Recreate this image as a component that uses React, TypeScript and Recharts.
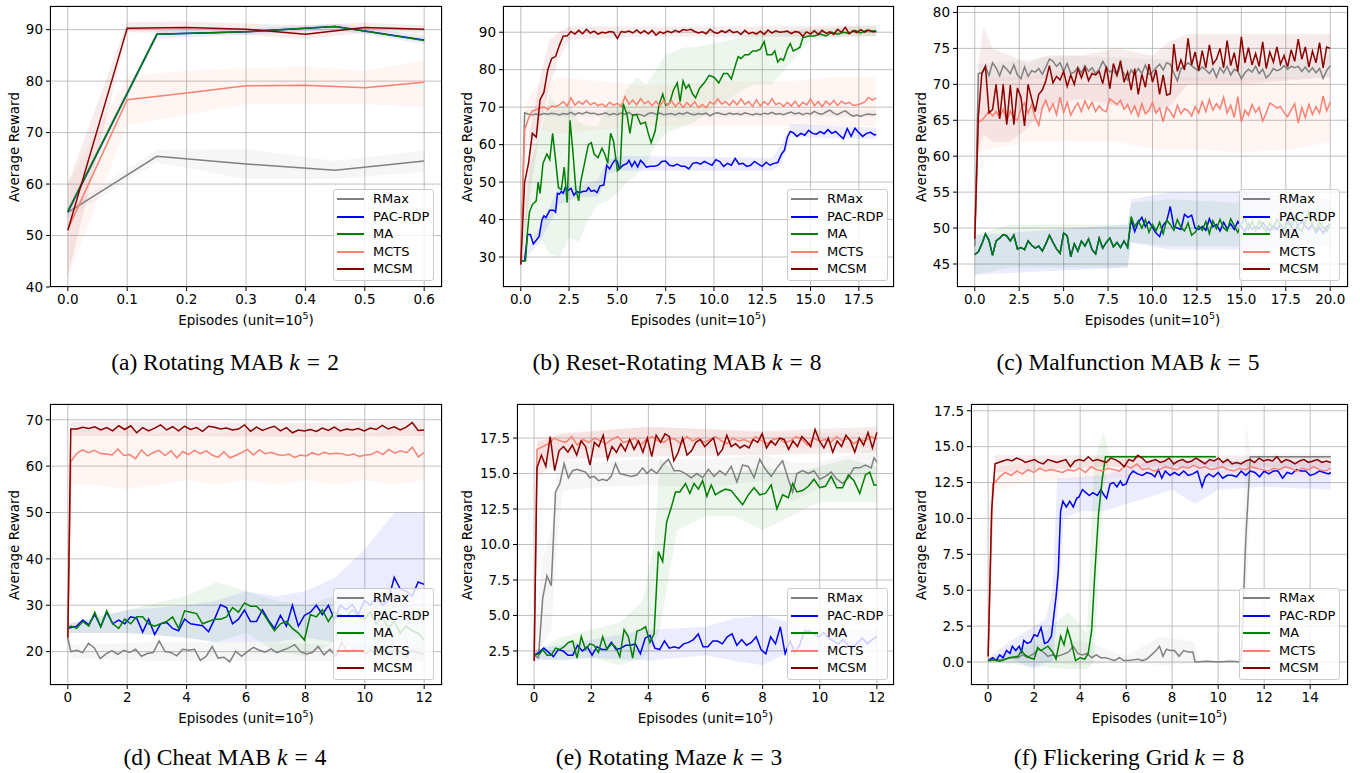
import React from "react";
import { ComposedChart, Line, Area, XAxis, YAxis, CartesianGrid } from "recharts";

// ---- helpers: turn read-off values into chart rows ----
const pairs = (a: number[][]) => a.map(([x, y]) => ({ x, y }));
const spread = (x0: number, x1: number, ys: number[]) =>
  ys.map((y, i) => ({ x: x0 + ((x1 - x0) * i) / (ys.length - 1), y }));
const band = (a: number[][]) => a.map(([x, lo, hi]) => ({ x, r: [lo, hi] }));

const NAMES = ["RMax", "PAC-RDP", "MA", "MCTS", "MCSM"];
const COLORS: Record<string, string> = {
  RMax: "#808080",
  "PAC-RDP": "#0000ff",
  MA: "#008000",
  MCTS: "#fa8072",
  MCSM: "#8b0000",
};

// ---- (a) Rotating MAB ----
const aRMax = [[0, 54.5], [0.15, 65.4], [0.3, 63.9], [0.45, 62.7], [0.6, 64.5]];
const aPAC = [[0, 54.6], [0.15, 89.1], [0.3, 89.6], [0.45, 90.6], [0.6, 88.0]];
const aMA = [[0, 54.7], [0.15, 89.1], [0.3, 89.6], [0.45, 90.6], [0.6, 87.9]];
const aMCTS = [[0, 51.2], [0.1, 76.4], [0.2, 77.7], [0.3, 79.1], [0.4, 79.2], [0.5, 78.7], [0.6, 79.8]];
const aMCSM = [[0, 51.0], [0.1, 90.3], [0.2, 90.4], [0.3, 90.1], [0.4, 89.1], [0.5, 90.4], [0.6, 90.1]];
const aRMaxBand = [[0, 53.5, 55.5], [0.15, 64.2, 66.6], [0.3, 61.0, 66.8], [0.45, 61.0, 64.5], [0.6, 62.4, 66.5]];
const aPACBand = [[0, 54, 55.5], [0.15, 88.3, 89.9], [0.3, 89.0, 90.2], [0.45, 90.0, 91.2], [0.6, 87.2, 88.8]];
const aMCTSBand = [[0, 42, 60], [0.1, 71.5, 81], [0.2, 73.5, 82], [0.3, 75.5, 82.5], [0.4, 75.5, 82.8], [0.5, 75.5, 82], [0.6, 75, 84]];
const aMCSMBand = [[0, 42, 60], [0.1, 89.5, 91.5], [0.2, 89.3, 91.6], [0.3, 89.0, 91.2], [0.4, 88.2, 90.8], [0.5, 89.4, 91.4], [0.6, 89.4, 90.8]];

// ---- (b) Reset-Rotating MAB ----
const bRMax = [28, 68.5, 68.1, 68.0, 68.2, 68.0, 68.3, 68.1, 68.4, 68.2,
  67.9, 68.3, 68.1, 68.6, 68.0, 68.5, 68.2, 68.7, 68.3, 68.4,
  68.0, 68.2, 68.5, 67.9, 68.3, 68.0, 68.4, 68.1, 68.6, 67.8,
  68.2, 68.0, 67.6, 68.3, 68.5, 68.1, 68.4, 68.0, 68.2, 68.3,
  67.9, 68.4, 68.1, 68.6, 68.2, 68.0, 68.3, 68.1, 68.4, 67.7,
  68.3, 68.5, 68.2, 68.0, 68.4, 68.1, 68.3, 68.0, 68.5, 68.2,
  67.9, 68.3, 68.0, 68.4, 68.2, 68.6, 68.1, 68.3, 68.0, 68.4,
  68.7, 68.2, 68.5, 68.0, 68.4, 68.2, 68.9, 68.3, 68.1, 68.7,
  69.2, 68.4, 68.0, 68.6, 69.0, 68.2, 67.6, 67.9, 67.5, 68.0,
  68.2, 68.0, 68.1];
const bPAC = [[0, 29], [0.2, 29], [0.35, 36], [0.5, 36], [0.65, 33.5], [0.8, 34.5], [0.95, 35.5], [1.1, 40], [1.2, 41], [1.3, 40.5],
  [1.5, 42.5], [1.7, 42.5], [1.8, 42], [1.9, 47], [2.0, 46.8], [2.1, 47.5], [2.2, 47], [2.3, 48.5], [2.45, 47.8], [2.6, 48.3],
  [2.75, 46.5], [2.9, 47.5], [3.05, 47.2], [3.2, 47.5], [3.4, 47.6], [3.5, 48.5], [3.65, 47.5], [3.8, 47.8], [3.95, 47.2], [4.1, 49],
  [4.3, 49.2], [4.45, 54.5], [4.6, 53.5], [4.75, 55], [4.9, 56], [5.0, 55.5], [5.1, 53.5], [5.3, 54.5], [5.5, 55], [5.6, 55.8],
  [5.75, 54.2], [5.9, 55.5], [6.05, 54], [6.2, 55.8], [6.35, 55], [6.5, 54], [6.7, 54.2], [6.9, 54.2], [7.1, 54.5], [7.3, 55.5],
  [7.5, 55.6], [7.7, 54.5], [7.9, 54.3], [8.1, 54.8], [8.3, 54.2], [8.5, 54.2], [8.7, 53.5], [8.9, 55], [9.1, 55.2], [9.3, 54.8],
  [9.5, 55.5], [9.7, 55], [9.9, 54.5], [10.1, 56], [10.3, 55.5], [10.5, 54.2], [10.7, 55], [10.9, 54.5], [11.1, 56.3], [11.3, 54.8],
  [11.5, 55], [11.7, 54.2], [11.9, 54.5], [12.1, 55.5], [12.3, 54.8], [12.5, 54.2], [12.7, 55.3], [12.9, 54.5], [13.1, 55], [13.3, 55.2],
  [13.5, 57.5], [13.65, 58.5], [13.8, 62], [13.95, 63.5], [14.1, 63.2], [14.3, 62.2], [14.5, 63], [14.7, 62.5], [14.9, 63.8], [15.1, 63],
  [15.3, 62.8], [15.5, 63.5], [15.7, 62.9], [15.9, 64], [16.1, 63], [16.3, 63.5], [16.5, 62.5], [16.7, 61.6], [16.9, 64.3], [17.1, 62.2],
  [17.3, 64.4], [17.5, 63.2], [17.7, 62.2], [17.9, 63], [18.1, 63.3], [18.3, 62.6], [18.4, 62.7]];
const bMA = [[0, 29], [0.25, 29], [0.35, 37], [0.45, 42], [0.6, 44], [0.8, 45], [0.9, 50], [1.0, 47], [1.15, 55], [1.35, 57.5],
  [1.5, 56], [1.65, 63], [1.8, 56], [1.95, 48.5], [2.1, 48], [2.25, 54], [2.4, 44.5], [2.55, 66.5], [2.7, 58], [2.85, 48],
  [3.0, 45], [3.1, 50], [3.3, 55], [3.5, 60], [3.65, 60.5], [3.8, 57.5], [4.0, 56.5], [4.2, 59], [4.35, 57.5], [4.5, 55],
  [4.65, 63], [4.8, 61], [5.0, 53], [5.15, 54], [5.3, 71], [5.5, 68], [5.65, 63], [5.8, 68], [6.0, 68], [6.2, 65.5],
  [6.45, 66], [6.6, 63], [6.75, 60.5], [6.95, 63.5], [7.15, 70.5], [7.35, 73.5], [7.5, 70.5], [7.7, 71], [7.9, 74.5], [8.1, 76.5],
  [8.25, 71.5], [8.4, 77], [8.55, 75], [8.7, 76], [8.9, 73.5], [9.05, 72.5], [9.25, 75], [9.5, 76.5], [9.75, 78.5], [10.0, 78],
  [10.25, 76.5], [10.5, 79], [10.7, 79], [10.9, 77.5], [11.1, 81], [11.25, 83.5], [11.4, 83], [11.6, 84], [11.8, 84], [12.0, 85],
  [12.2, 85], [12.4, 85.5], [12.6, 87.5], [12.75, 84], [13.0, 84], [13.15, 85], [13.3, 82], [13.45, 83], [13.6, 82.5], [13.8, 85.5],
  [13.95, 87], [14.1, 85], [14.3, 85.5], [14.45, 86], [14.6, 88.5], [14.9, 89], [15.2, 89], [15.5, 89.5], [15.8, 89], [16.1, 90],
  [16.4, 89.5], [16.7, 90], [17.0, 89.7], [17.3, 90.5], [17.6, 89.8], [17.9, 90.5], [18.1, 90.4], [18.4, 90.3]];
const bMCTS = [28, 64, 67, 69, 69.3, 69.8, 70, 69.4, 70.3, 70.1,
  70.6, 71.5, 70.3, 72.5, 70.5, 71.5, 70.8, 71.8, 70.6, 71.2,
  70.4, 70.9, 70.1, 71.3, 70.5, 71.0, 70.2, 72.8, 70.8, 71.9,
  70.6, 72.3, 70.9, 71.6, 70.4, 71.6, 70.3, 71.8, 70.5, 71.7,
  70.2, 71.3, 69.9, 71.2, 70.2, 71.5, 69.9, 70.7, 69.8, 71.4,
  70.7, 72.2, 70.8, 71.5, 70.5, 71.8, 70.6, 72.2, 70.7, 71.5,
  70.2, 72.0, 70.3, 71.5, 70.6, 72.3, 70.7, 71.1, 70.2, 71.3,
  70.3, 71.6, 70.1, 71.3, 70.6, 72.2, 70.4, 71.5, 70.1, 71.6,
  70.6, 71.8, 70.4, 71.6, 70.9, 71.3, 70.5, 70.6, 70.9, 71.4,
  72.6, 71.9, 72.5];
const bMCSM = [28, 50, 55, 63, 62, 72, 74, 80, 83, 83.5,
  86.5, 89, 89, 90.2, 89.5, 90.5, 89.6, 90.8, 89.8, 90.3,
  89.5, 90.0, 89.8, 90.2, 90.0, 88.3, 90.2, 90.0, 90.3, 89.8,
  90.6, 89.7, 90.4, 89.6, 90.5, 89.2, 90.1, 89.7, 90.3, 89.9,
  90.5, 90.0, 90.7, 90.5, 90.8, 90.2, 89.8, 90.1, 89.6, 90.8,
  90.0, 89.7, 90.4, 89.9, 90.6, 89.9, 90.2, 89.4, 90.5, 89.6,
  90.0, 89.5, 90.3, 89.4, 90.6, 89.8, 90.4, 90.0, 90.1, 90.3,
  89.6, 90.2, 90.0, 88.9, 90.1, 89.5, 90.4, 89.4, 90.5, 89.7,
  90.1, 89.4, 90.8, 90.0, 91.3, 89.6, 90.4, 89.9, 90.7, 90.0,
  90.6, 90.1, 90.2];
const bRMaxBand = [[0, 26, 30], [0.2, 67.5, 69.3], [5, 67.4, 69.3], [10, 67.4, 69.4], [15, 67.5, 69.5], [18.4, 67.3, 69.2]];
const bPACBand = [[0, 28, 30], [1, 34, 38], [2, 44, 49], [3, 46, 49], [4, 46, 50.5], [4.5, 52, 56], [5, 53, 57], [13, 53, 56.5], [13.5, 55, 60], [14, 62, 65.5], [18.4, 61.5, 64.5]];
const bMABand = [[0, 28, 30], [0.5, 35, 55], [1.0, 35, 63], [1.5, 31, 73], [2.0, 30, 70], [2.5, 35, 72], [3.0, 34, 66], [3.5, 40, 65], [4.0, 44, 65],
  [4.5, 45, 70], [5.0, 47, 70], [5.5, 50, 75], [6.0, 52, 78], [6.5, 55, 76], [7.0, 60, 80], [7.5, 63, 84], [8.0, 64, 85], [8.5, 65, 86], [9.0, 66, 86],
  [10.0, 70, 87], [11.0, 73, 88], [12.0, 76, 90], [13.0, 76, 90], [14.0, 82, 90.5], [15.0, 88, 91], [16.0, 88.5, 91], [17.0, 89, 91.5], [18.4, 89, 91.5]];
const bMCTSBand = [[0, 26, 30], [0.2, 57, 70], [0.5, 62, 74], [1, 64, 76], [2, 63, 78], [4, 64, 77], [6, 65, 76], [8, 65, 76], [10, 65, 77], [12, 65, 77], [14, 65, 77], [16, 65, 78], [18.4, 65, 78]];
const bMCSMBand = [[0, 26, 30], [0.5, 48, 64], [1.0, 64, 78], [1.5, 76, 88], [2.0, 83, 90], [2.5, 88, 91.5], [6, 88.8, 91.5], [12, 88.8, 91.5], [18.4, 88.8, 91.8]];

// ---- (c) Malfunction MAB ----
const cRMax = [47.5, 71.5, 71.6, 72.5, 71.2, 73.0, 72.3, 71.2, 72.6, 72.1,
  71.5, 72.7, 71.3, 70.8, 72.4, 71.1, 71.9, 71.7, 72.2, 71.4,
  72.4, 73.5, 73.2, 72.5, 73.0, 71.8, 72.9, 71.5, 71.7, 72.4,
  71.6, 72.6, 71.8, 72.3, 71.5, 72.1, 73.2, 72.4, 71.7, 72.0,
  71.2, 72.6, 71.4, 70.6, 72.0, 71.3, 72.2, 71.5, 72.7, 71.4,
  71.7, 72.3, 72.8, 72.0, 73.0, 72.8, 71.6, 70.5, 72.2, 72.5,
  73.0, 72.6, 72.2, 71.9, 72.4, 72.0, 71.5, 72.2, 71.0, 72.3,
  71.6, 72.5, 71.3, 72.1, 71.8, 70.8, 71.6, 72.1, 71.7, 72.5,
  71.5, 72.1, 70.9, 71.4, 72.2, 71.9, 72.1, 72.6, 72.1, 72.5,
  72.3, 72.5, 71.8, 72.4, 71.7, 72.3, 71.6, 72.2, 70.8, 71.9,
  72.6];
const cMA = [46.3, 46.7, 47.8, 49.2, 48.3, 46.2, 48.2, 48.6, 49.1, 48.9,
  48.2, 49.0, 47.1, 47.3, 47.0, 48.2, 47.6, 47.2, 47.5, 46.8,
  47.8, 49.0, 48.0, 47.1, 46.5, 49.3, 48.9, 46.0, 47.8, 46.8,
  48.2, 47.5, 48.5, 47.0, 46.4, 48.6, 47.2, 48.0, 48.6, 47.4,
  48.0, 47.3, 48.2, 47.3, 51.6, 50.2, 51.0, 50.0, 51.2, 49.4,
  50.5, 49.6, 50.8, 49.2, 51.1, 50.5, 49.7, 51.2, 50.1, 49.6,
  50.7, 49.0, 49.4, 50.3, 49.7, 50.9, 49.2, 51.0, 49.9, 51.2,
  50.0, 49.6, 51.3, 50.3, 49.4, 50.5, 51.4, 49.8, 50.9, 49.6,
  51.0, 50.2, 49.5, 50.7, 49.9, 51.2, 50.4, 49.7, 50.8, 50.1,
  51.5, 50.0, 49.6, 50.9, 52.2, 50.3, 49.7, 50.8, 50.1, 49.5,
  50.6];
// PAC-RDP coincides with MA until ~8.7, then diverges
const cPACLate = [51.2, 49.5, 50.8, 51.5, 50.2, 50.9, 50.1, 49.3, 48.8, 50.4,
  51.0, 53.0, 50.2, 50.0, 49.8, 51.9, 51.5, 51.8, 50.0, 49.8,
  50.2, 49.7, 51.3, 50.2, 50.5, 49.6, 50.8, 49.9, 50.6, 49.8,
  50.9, 50.2, 49.5, 50.6, 49.8, 50.2, 49.9, 50.8, 50.1, 49.6,
  50.3, 49.8, 50.5, 49.7, 51.3, 50.2, 49.6, 50.4, 51.0, 50.3,
  49.8, 50.5, 49.4, 50.1, 49.3, 50.2, 50.5];
const cMCTS = [48.5, 64.8, 65.0, 65.6, 66.3, 65.6, 66.2, 65.4, 66.5, 64.9,
  66.3, 65.2, 65.0, 66.6, 67.4, 66.0, 67.2, 65.4, 64.3, 66.8,
  67.8, 66.3, 67.3, 65.8, 68.2, 66.1, 67.5, 65.7, 66.7, 67.4,
  66.2, 67.7, 66.6, 67.5, 66.2, 67.0, 66.4, 66.2, 68.0, 67.6,
  67.2, 67.8, 66.5, 67.2, 66.0, 67.0, 65.6, 67.3, 65.9, 66.4,
  67.5, 66.0, 66.7, 64.8, 66.8, 66.2, 65.4, 67.1, 65.9, 66.6,
  66.3, 65.6, 66.9, 66.0, 67.6, 66.2, 67.9, 66.4, 67.3, 66.6,
  68.2, 66.0, 67.1, 65.4, 68.3, 64.8, 66.4, 65.7, 67.2, 66.1,
  66.8, 64.9, 66.0, 67.4, 67.1, 66.7, 66.9, 66.1, 65.5, 66.4,
  67.3, 64.6, 66.8, 65.4, 67.2, 65.8, 66.9, 66.0, 68.4, 66.3,
  67.5];
const cMCSM = [48.5, 65.5, 71.5, 72.5, 66.0, 66.5, 70.0, 65.2, 70.0, 64.4,
  69.9, 64.4, 69.5, 68.2, 64.2, 70.0, 68.0, 66.2, 68.6, 69.2,
  70.5, 72.6, 70.2, 71.1, 70.6, 71.8, 69.7, 71.3, 70.0, 72.2,
  70.9, 72.3, 70.5, 71.5, 71.3, 71.8, 70.1, 72.5, 69.4, 72.9,
  71.3, 73.3, 70.3, 71.7, 69.2, 72.2, 68.6, 71.4, 69.6, 72.8,
  70.3, 72.0, 68.6, 71.3, 68.5, 68.7, 75.6, 71.8, 73.4, 72.0,
  76.4, 72.7, 74.5, 71.9, 74.7, 72.3, 75.5, 72.8, 73.5, 75.0,
  72.3, 76.1, 72.6, 74.4, 71.8, 76.6, 73.0, 75.1, 72.7, 74.3,
  72.5, 75.9, 72.2, 74.5, 73.1, 75.2, 72.8, 74.0, 72.4, 74.8,
  73.2, 76.3, 73.5, 75.2, 72.4, 74.6, 73.0, 75.8, 72.3, 75.2,
  75.0];
const cRMaxBand = [[0, 45, 50], [0.2, 70.2, 72.8], [5, 71, 74], [10, 70.5, 73.5], [15, 70.5, 73], [20, 71, 74]];
const cPACBand = [[0, 43.5, 49], [8.6, 44.5, 50.5], [8.8, 48, 54], [11, 47, 55], [15, 47, 55], [20, 47.5, 54]];
const cMABand = [[0, 43.5, 49], [2, 44.5, 50.5], [4, 44.5, 50.5], [6, 44.5, 50.5], [8.6, 44.5, 50.5], [8.8, 48, 53.5], [11, 47.5, 54], [15, 47.5, 53.5], [20, 47.5, 53.5]];
const cMCTSBand = [[0, 44, 52], [0.2, 60.5, 70], [1, 61, 71], [3, 62, 71], [5, 62, 72], [8, 62, 72], [10, 61, 71], [12, 61, 71], [15, 60.5, 71], [18, 61, 71], [20, 62, 71]];
const cMCSMBand = [[0, 44, 52], [0.2, 61, 73], [0.5, 63, 78], [1, 62, 75], [2, 62, 74], [3, 64, 73], [4, 67, 74], [6, 68, 74], [8, 67, 75], [10, 66, 74], [11, 67, 76], [12, 70, 77], [15, 70, 77], [20, 71, 77]];

// ---- (d) Cheat MAB ----
const dRMax = [20.0, 20.3, 19.8, 21.8, 20.8, 18.5, 19.5, 20.2, 19.4, 20.3,
  19.8, 20.5, 19.0, 19.6, 19.8, 22.3, 20.0, 19.8, 19.1, 20.5,
  20.3, 20.5, 18.1, 19.0, 21.1, 18.6, 18.8, 17.8, 20.1, 19.0,
  20.0, 20.9, 20.3, 19.9, 20.6, 19.8, 20.3, 20.8, 21.5, 20.0,
  19.5, 19.8, 21.1, 19.3, 20.5, 19.0, 22.0, 19.8, 20.5, 20.1,
  19.5, 20.3, 19.2, 20.4, 19.6, 20.6, 19.9, 18.9, 20.3, 19.7,
  19.5];
const dPAC = [25.2, 25.5, 26.8, 25.8, 28.0, 25.4, 28.5, 26.0, 26.8, 26.0,
  27.5, 27.2, 24.2, 27.0, 23.7, 26.0, 26.3, 25.0, 24.5, 27.0,
  26.0, 25.8, 25.6, 24.3, 27.0, 30.1, 29.5, 26.0, 27.0, 29.0,
  26.5, 26.5, 29.0, 26.8, 25.0, 27.8, 25.5, 30.0, 25.5, 27.8,
  28.5, 30.0, 28.0, 30.0, 27.0, 30.0, 29.0, 30.2, 28.0, 31.0,
  30.0, 31.5, 30.0, 31.0, 36.0, 33.5, 33.0, 32.0, 35.0, 34.5];
const dMA = [25.5, 25.0, 26.5, 25.5, 28.5, 25.3, 28.8, 26.0, 25.0, 27.0,
  26.0, 27.5, 27.5, 26.0, 25.5, 26.0, 26.5, 27.5, 25.0, 28.8,
  28.5, 28.2, 26.0, 26.5, 27.0, 27.0, 27.5, 29.5, 28.5, 30.5,
  29.8, 29.8, 28.5, 26.5, 24.5, 26.0, 26.5, 25.0, 24.0, 22.5,
  28.0, 27.5, 29.0, 26.5, 28.5, 28.0, 27.5, 29.0, 27.5, 27.0,
  28.5, 26.0, 27.5, 25.0, 26.5, 24.0, 25.5, 24.5, 24.0, 22.5];
const dMCTS = [61.0, 62.7, 63.5, 62.9, 63.4, 62.7, 62.6, 62.4, 63.7, 62.3,
  62.5, 61.6, 63.5, 62.2, 62.9, 63.4, 62.3, 63.3, 61.8, 63.1,
  62.5, 63.4, 62.7, 63.3, 62.4, 61.9, 63.1, 61.8, 62.3, 62.9,
  63.6, 62.4, 63.5, 62.7, 63.0, 62.5, 62.3, 62.6, 61.9, 62.4,
  62.2, 62.9, 62.4, 63.0, 62.6, 62.8, 62.7, 62.3, 62.6, 62.1,
  62.4, 62.5, 63.2, 62.5, 63.6, 62.8, 63.3, 62.9, 64.1, 62.0,
  62.9];
const dMCSM = [68.0, 68.0, 68.4, 68.1, 68.5, 67.8, 68.3, 67.6, 68.7, 67.9,
  68.7, 67.2, 68.3, 67.6, 68.2, 68.9, 67.8, 68.5, 67.6, 68.6,
  67.9, 68.3, 67.5, 68.6, 68.4, 68.0, 68.2, 67.8, 68.0, 68.9,
  67.5, 68.4, 67.7, 68.2, 68.6, 67.6, 68.3, 67.2, 67.8, 67.6,
  67.9, 67.5, 68.2, 67.7, 68.4, 67.6, 68.0, 67.8, 68.1, 67.6,
  68.2, 67.9, 68.8, 68.0, 68.5, 67.8, 68.4, 69.4, 67.7, 67.8];
const dRMaxBand = [[0, 22, 24], [0.1, 18.5, 21.5], [3, 18, 22], [6, 18, 22], [9, 18, 21.5], [12, 18, 21.5]];
const dPACBand = [[0, 24, 26], [2, 24, 29], [4, 23, 30], [5, 22, 31], [6, 22, 33], [7, 22, 32], [8, 23, 33], [9, 22, 36], [10, 20, 42], [11, 18, 50], [12, 18, 50]];
const dMABand = [[0, 24, 26], [2, 24, 29], [4, 23, 32], [5, 22, 35], [6, 24, 33], [7, 20, 31], [8, 19, 30], [9, 22, 32], [10, 20, 33], [11, 19, 32], [12, 18, 28]];
const dMCTSBand = [[0, 22, 24], [0.1, 56, 68], [1, 56, 68], [2, 55, 68], [3, 56, 67], [4, 57, 68], [5, 56, 67], [6, 57, 68], [7, 56, 68], [8, 57, 67], [9, 56, 68], [10, 57, 67], [11, 56, 68], [12, 57, 68]];
const dMCSMBand = [[0, 22, 24], [0.1, 66.5, 69.5], [4, 66.5, 69.5], [8, 66.3, 69.3], [12, 66.5, 69.8]];

// ---- (e) Rotating Maze ----
const eRMax = [[0, 2.2], [0.15, 2.0], [0.3, 6.2], [0.45, 7.8], [0.6, 7.1], [0.75, 13.7], [0.9, 14.3], [1.05, 15.7], [1.2, 14.7], [1.35, 15.2],
  [1.5, 15.3], [1.65, 15.2], [1.8, 15.1], [1.95, 14.7], [2.1, 14.8], [2.25, 14.5], [2.4, 14.6], [2.55, 14.5], [2.7, 14.8], [2.85, 15.7],
  [3.0, 15.0], [3.2, 14.9], [3.4, 14.8], [3.6, 14.9], [3.8, 15.4], [3.95, 15.0], [4.1, 15.3], [4.3, 15.0], [4.5, 15.6], [4.7, 16.0],
  [4.9, 15.2], [5.1, 15.2], [5.3, 15.0], [5.5, 14.7], [5.7, 15.0], [5.9, 14.7], [6.1, 15.3], [6.3, 14.8], [6.5, 15.2], [6.7, 14.9],
  [6.9, 15.5], [7.1, 14.4], [7.3, 15.6], [7.5, 15.5], [7.7, 14.7], [7.9, 16.0], [8.1, 15.3], [8.3, 14.8], [8.5, 15.4], [8.7, 15.9],
  [8.9, 14.6], [9.05, 13.7], [9.2, 15.0], [9.4, 15.2], [9.6, 15.0], [9.8, 15.2], [10.0, 14.6], [10.2, 14.8], [10.4, 15.1], [10.6, 14.6],
  [10.8, 14.3], [11.0, 14.7], [11.2, 15.4], [11.4, 15.4], [11.6, 15.6], [11.8, 15.4], [11.9, 16.1], [12.0, 15.8]];
const ePAC = [2.2, 2.4, 2.7, 2.4, 2.1, 2.6, 2.5, 2.2, 2.2, 2.9,
  2.5, 2.8, 2.2, 2.8, 2.6, 2.6, 3.1, 2.6, 2.7, 2.9,
  2.9, 3.0, 2.3, 3.4, 3.6, 2.7, 2.6, 3.2, 2.7, 2.8,
  2.7, 3.0, 3.1, 3.3, 3.7, 2.8, 2.8, 3.2, 3.2, 3.0,
  3.5, 3.7, 2.9, 3.3, 2.9, 3.1, 3.5, 2.6, 2.3, 3.5,
  3.0, 4.2, 2.3, 3.2, 2.4, 2.9, 3.9, 3.9, 3.7, 3.5,
  3.8, 3.4, 3.2, 3.0, 3.3, 2.9, 2.7, 3.1, 3.4, 3.0,
  3.3, 3.5];
const eMA = [[0, 2.2], [0.2, 2.3], [0.3, 2.6], [0.45, 2.2], [0.6, 2.2], [0.75, 2.7], [0.9, 2.6], [1.05, 2.8], [1.2, 3.1], [1.35, 3.2],
  [1.5, 2.0], [1.65, 3.5], [1.8, 2.6], [1.95, 3.0], [2.1, 2.9], [2.25, 2.4], [2.4, 3.5], [2.55, 2.6], [2.7, 3.0], [2.85, 2.8],
  [3.0, 2.1], [3.15, 4.0], [3.3, 3.5], [3.45, 2.0], [3.6, 3.9], [3.75, 4.0], [3.9, 4.2], [4.05, 3.1], [4.2, 3.7], [4.35, 9.5],
  [4.5, 8.8], [4.64, 11.6], [4.8, 12.6], [4.95, 13.7], [5.1, 13.7], [5.3, 14.3], [5.45, 13.6], [5.6, 14.3], [5.75, 13.9], [5.9, 14.5],
  [6.05, 13.4], [6.2, 14.2], [6.35, 13.5], [6.5, 13.7], [6.7, 13.9], [6.9, 13.8], [7.1, 13.3], [7.3, 12.8], [7.5, 13.5], [7.7, 14.0],
  [7.9, 13.5], [8.1, 13.6], [8.3, 14.2], [8.5, 12.5], [8.7, 13.5], [8.9, 13.3], [9.05, 14.3], [9.2, 13.7], [9.4, 13.8], [9.6, 14.1],
  [9.8, 14.6], [10.0, 14.0], [10.2, 14.1], [10.4, 14.8], [10.6, 14.0], [10.8, 14.0], [11.0, 14.9], [11.2, 14.5], [11.4, 13.6], [11.6, 14.9],
  [11.75, 15.1], [11.9, 14.2], [12.0, 14.2]];
const eMCTS = [16.7, 16.9, 17.1, 17.5, 17.3, 17.2, 17.6, 17.0, 17.4, 17.2,
  17.5, 17.3, 17.1, 17.4, 17.6, 17.2, 17.3, 17.5, 17.0, 17.4,
  17.6, 17.3, 17.2, 17.5, 17.4, 17.1, 17.6, 17.3, 17.5, 17.2,
  17.4, 17.6, 17.3, 17.1, 17.5, 17.3, 17.4, 17.2, 17.6, 17.3,
  17.1, 17.4, 17.5, 17.2, 17.3, 17.6, 17.4, 17.0, 17.5, 17.3,
  17.4, 17.2, 17.6, 17.3, 17.5, 17.1, 17.4, 17.3, 17.6, 17.4];
const eMCSM = [15.4, 16.3, 15.5, 17.6, 15.2, 16.6, 16.9, 16.5, 17.0, 16.3,
  17.3, 16.9, 15.6, 17.2, 16.9, 17.7, 16.0, 16.9, 16.5, 17.1,
  16.6, 17.4, 16.7, 17.3, 16.5, 17.5, 16.2, 17.7, 17.2, 17.8,
  17.6, 15.9, 16.5, 17.5, 16.3, 16.6, 17.2, 17.4, 16.9, 17.2,
  17.5, 16.3, 16.7, 17.7, 16.9, 17.1, 16.8, 17.0, 16.8, 17.4,
  17.2, 17.8, 16.8, 17.3, 17.0, 17.5, 17.4, 16.7, 17.3, 16.9,
  17.6, 17.3, 16.9, 18.1, 17.3, 16.8, 17.5, 16.5, 17.3, 16.9,
  17.7, 17.3, 16.5, 17.5, 17.0, 17.9, 16.8, 17.9];
const eRMaxBand = [[0, 2, 2.5], [0.3, 3, 9], [0.6, 4, 11], [0.8, 10, 15.5], [1, 13.8, 16], [2, 14, 15.8], [4, 14.2, 16], [6, 14, 16], [8, 14.5, 16.3], [9, 13, 15.8], [10, 14, 15.8], [12, 15, 16.8]];
const ePACBand = [[0, 1.8, 2.6], [2, 2, 3.3], [4, 1.8, 4], [6, 2.2, 4.2], [7, 1.8, 4.8], [8, 1.5, 5], [9, 2.5, 4.5], [10, 2.5, 4], [12, 2.8, 4]];
const eMABand = [[0, 2, 2.5], [1, 1.8, 3.5], [2, 2, 4], [3, 1.5, 4.5], [3.8, 2, 6], [4.2, 3, 10], [4.4, 4, 16], [5, 11, 15], [6, 12, 15], [7, 12, 15], [8, 11, 15.5], [9, 12, 15], [10, 13, 15.5], [11, 13, 16], [12, 13, 15.5]];
const eMCTSBand = [[0, 1.5, 2.2], [0.1, 15.5, 17.5], [1, 16.6, 17.9], [4, 16.8, 18.3], [8, 16.8, 17.9], [12, 16.8, 17.9]];
const eMCSMBand = [[0, 1.5, 2.2], [0.1, 14.8, 17.2], [1, 16, 17.8], [4, 16.2, 18.3], [8, 16.3, 18], [12, 16.5, 18.3]];

// ---- (f) Flickering Grid ----
const fRMax = [[0, 0.1], [0.5, 0.15], [1.0, 0.3], [1.3, 0.3], [1.5, 0.5], [1.7, 0.3], [2.0, 0.6], [2.2, 0.9], [2.4, 0.7], [2.6, 0.4],
  [2.8, 0.5], [3.0, 0.4], [3.2, 0.5], [3.5, 0.7], [3.7, 1.1], [3.9, 0.6], [4.1, 0.5], [4.3, 0.6], [4.5, 0.3], [4.7, 0.5],
  [4.9, 0.3], [5.1, 0.3], [5.3, 0.2], [5.5, 0.1], [5.7, 0.3], [5.9, 0.1], [6.1, 0.1], [6.3, 0.15], [6.5, 0.2], [6.7, 0.1],
  [6.9, 0.2], [7.1, 0.5], [7.3, 0.8], [7.45, 1.1], [7.6, 0.4], [7.75, 0.9], [7.9, 0.8], [8.1, 0.8], [8.3, 0.4], [8.5, 0.8],
  [8.7, 0.7], [8.9, 0.7], [9.0, 0.0], [9.5, 0.05], [10.0, 0.0], [10.5, 0.05], [11.0, 0.0], [11.2, 8.5], [11.4, 14.3], [14.9, 14.3]];
const fPAC = [[0, 0.1], [0.2, 0.3], [0.35, 0.1], [0.5, 0.5], [0.65, 0.3], [0.8, 0.8], [0.95, 0.6], [1.05, 1.1], [1.2, 0.8], [1.35, 1.1],
  [1.45, 0.7], [1.55, 1.5], [1.7, 1.3], [1.85, 1.4], [2.0, 1.9], [2.15, 1.8], [2.3, 2.4], [2.45, 1.3], [2.6, 1.4], [2.75, 1.8],
  [2.95, 4.5], [3.05, 6.3], [3.15, 10.5], [3.25, 11.2], [3.4, 10.8], [3.55, 11.2], [3.7, 10.8], [3.85, 11.4], [3.95, 11.5], [4.1, 12.0],
  [4.25, 11.8], [4.4, 11.6], [4.55, 11.8], [4.75, 11.6], [4.9, 12.0], [5.05, 11.6], [5.15, 11.4], [5.3, 12.4], [5.45, 12.5], [5.6, 12.2],
  [5.75, 12.6], [5.85, 12.3], [6.0, 12.4], [6.15, 13.0], [6.3, 13.3], [6.5, 13.1], [6.7, 13.0], [6.9, 13.2], [7.1, 13.1], [7.25, 12.9],
  [7.4, 13.4], [7.55, 12.8], [7.7, 13.3], [7.9, 13.0], [8.1, 13.2], [8.3, 13.0], [8.5, 13.3], [8.7, 13.0], [8.9, 13.1], [9.1, 13.3],
  [9.3, 12.2], [9.45, 12.9], [9.6, 13.1], [9.8, 12.9], [10.0, 13.2], [10.2, 12.8], [10.4, 13.0], [10.6, 13.0], [10.8, 12.9], [11.0, 13.3],
  [11.2, 13.0], [11.4, 13.3], [11.6, 13.2], [11.8, 12.9], [12.0, 13.3], [12.2, 13.1], [12.4, 13.3], [12.6, 13.3], [12.8, 12.8], [13.0, 13.2],
  [13.2, 13.1], [13.4, 13.4], [13.6, 13.3], [13.8, 13.3], [14.0, 13.0], [14.2, 13.1], [14.4, 13.3], [14.6, 13.2], [14.8, 13.1], [14.9, 13.2]];
const fMA = [[0, 0.1], [0.3, 0.15], [0.5, 0.05], [0.7, 0.15], [0.9, 0.3], [1.1, 0.35], [1.3, 0.4], [1.45, 0.8], [1.6, 0.5], [1.8, 0.3],
  [2.0, 0.2], [2.15, 1.0], [2.3, 0.8], [2.6, 1.1], [2.8, 0.7], [2.95, 0.2], [3.15, 1.8], [3.3, 1.2], [3.45, 2.3], [3.6, 1.5],
  [3.8, 0.1], [4.0, 0.3], [4.2, 0.2], [4.35, 0.6], [4.5, 2.2], [4.65, 6.5], [4.8, 10.3], [4.95, 12.6], [5.1, 14.3], [9.9, 14.3]];
const fMCTS = [12.9, 13.2, 13.0, 13.3, 13.1, 13.4, 13.2, 13.5, 13.3, 13.4,
  13.3, 13.2, 13.4, 13.3, 13.5, 13.2, 13.6, 13.4, 13.3, 13.5,
  13.4, 13.3, 13.7, 13.5, 13.8, 13.4, 13.5, 13.3, 13.4, 13.6,
  13.5, 13.4, 13.6, 13.5, 13.7, 13.5, 13.6, 13.4, 13.5, 13.6,
  13.4, 13.3, 13.5, 13.4, 13.6, 13.5, 13.4, 13.3, 13.5, 13.4,
  13.6, 13.5, 13.3, 13.5, 13.4, 13.6, 13.4, 13.3, 13.5];
const fMCSM = [13.9, 14.0, 14.1, 14.0, 14.2, 14.1, 13.9, 14.0, 14.1, 13.9,
  13.8, 14.1, 14.0, 13.9, 14.0, 14.1, 13.6, 14.0, 14.1, 14.0,
  14.3, 14.0, 14.1, 14.0, 13.9, 14.2, 14.1, 13.9, 13.6, 14.1,
  14.0, 14.4, 14.2, 13.9, 14.0, 14.1, 13.9, 14.0, 14.2, 13.8,
  14.0, 14.1, 13.9, 14.0, 14.2, 14.0, 13.8, 14.1, 14.0, 14.2,
  13.9, 14.1, 13.8, 13.9, 13.8, 14.0, 14.1, 13.9, 14.2, 14.0,
  14.1, 14.0, 14.3, 13.9, 14.1, 14.0, 13.8, 14.0, 14.1, 13.9,
  14.0, 14.1, 13.9, 14.0, 13.9];
const fRMaxBand = [[0, 0, 0.3], [2, 0, 1.2], [4, -0.2, 1.5], [6, 0, 0.4], [7.5, -0.2, 1.8], [9, -0.1, 1.4], [9.1, 0, 0.1], [11, 0, 0.2], [11.2, 1, 17], [11.4, 14.1, 14.5], [14.9, 14.1, 14.5]];
const fPACBand = [[0, 0, 0.3], [1, 0.2, 1.5], [2, -0.5, 2.5], [2.5, 0, 3], [2.8, 0, 5], [3.0, 3, 12.8], [3.3, 10, 12.8], [4, 10.5, 12.9], [5, 10.5, 13], [6, 11, 13.5], [7, 11.5, 14], [8, 12, 14], [9, 11, 14], [10, 12, 14], [12, 12.2, 14], [14.9, 12, 14]];
const fMABand = [[0, 0, 0.2], [2, -0.3, 1.5], [3.5, -0.5, 3.5], [4.3, -0.5, 2], [4.6, 0, 14], [5, 12, 16], [5.3, 14.2, 14.4], [9.9, 14.2, 14.4]];
const fMCTSBand = [[0, 0, 0.6], [0.2, 11.5, 13.2], [0.5, 12, 13.6], [2, 12.6, 14], [6, 12.8, 14.1], [10, 12.9, 14], [14.9, 12.9, 14]];
const fMCSMBand = [[0, 0.2, 0.6], [0.3, 13.2, 14.4], [5, 13.6, 14.4], [10, 13.6, 14.4], [14.9, 13.5, 14.3]];

const f1 = (v: number) => v.toFixed(1);
const f0 = (v: number) => String(v);

const PANELS = [
  {
    box: [50, 6, 392, 281], xDomain: [-0.03, 0.63], xTicks: [0, 0.1, 0.2, 0.3, 0.4, 0.5, 0.6], xFmt: f1,
    yDomain: [40, 94.6], yTicks: [40, 50, 60, 70, 80, 90], yFmt: f0,
    lines: { RMax: pairs(aRMax), "PAC-RDP": pairs(aPAC), MA: pairs(aMA), MCTS: pairs(aMCTS), MCSM: pairs(aMCSM) },
    bands: { RMax: band(aRMaxBand), "PAC-RDP": band(aPACBand), MCTS: band(aMCTSBand), MCSM: band(aMCSMBand) },
    legend: [333, 189], ylab: 14, cap: [225, 362], letter: "(a) Rotating MAB", k: "2",
  },
  {
    box: [503, 6, 391, 281], xDomain: [-0.92, 19.32], xTicks: [0, 2.5, 5, 7.5, 10, 12.5, 15, 17.5], xFmt: f1,
    yDomain: [22, 97], yTicks: [30, 40, 50, 60, 70, 80, 90], yFmt: f0,
    lines: { RMax: spread(0, 18.4, bRMax), "PAC-RDP": pairs(bPAC), MA: pairs(bMA), MCTS: spread(0, 18.4, bMCTS), MCSM: spread(0, 18.4, bMCSM) },
    bands: { RMax: band(bRMaxBand), "PAC-RDP": band(bPACBand), MA: band(bMABand), MCTS: band(bMCTSBand), MCSM: band(bMCSMBand) },
    legend: [787, 189], ylab: 467, cap: [677, 362], letter: "(b) Reset-Rotating MAB", k: "8",
  },
  {
    box: [957, 6, 391, 281], xDomain: [-1, 21], xTicks: [0, 2.5, 5, 7.5, 10, 12.5, 15, 17.5, 20], xFmt: f1,
    yDomain: [41.8, 80.9], yTicks: [45, 50, 55, 60, 65, 70, 75, 80], yFmt: f0,
    lines: { RMax: spread(0, 20, cRMax), "PAC-RDP": spread(0, 20, [...cMA.slice(0, 44), ...cPACLate]), MA: spread(0, 20, cMA), MCTS: spread(0, 20, cMCTS), MCSM: spread(0, 20, cMCSM) },
    bands: { RMax: band(cRMaxBand), "PAC-RDP": band(cPACBand), MA: band(cMABand), MCTS: band(cMCTSBand), MCSM: band(cMCSMBand) },
    legend: [1239, 189], ylab: 921, cap: [1128, 362], letter: "(c) Malfunction MAB", k: "5",
  },
  {
    box: [50, 404, 392, 281], xDomain: [-0.6, 12.6], xTicks: [0, 2, 4, 6, 8, 10, 12], xFmt: f0,
    yDomain: [12.8, 73.4], yTicks: [20, 30, 40, 50, 60, 70], yFmt: f0,
    lines: {
      RMax: [...pairs([[0, 23]]), ...spread(0.1, 12, dRMax)], "PAC-RDP": [...pairs([[0, 25]]), ...spread(0.1, 12, dPAC)],
      MA: [...pairs([[0, 25]]), ...spread(0.1, 12, dMA)], MCTS: [...pairs([[0, 23]]), ...spread(0.1, 12, dMCTS)],
      MCSM: [...pairs([[0, 23]]), ...spread(0.1, 12, dMCSM)],
    },
    bands: { RMax: band(dRMaxBand), "PAC-RDP": band(dPACBand), MA: band(dMABand), MCTS: band(dMCTSBand), MCSM: band(dMCSMBand) },
    legend: [333, 588], ylab: 14, cap: [225, 757], letter: "(d) Cheat MAB", k: "4",
  },
  {
    box: [517, 404, 377, 281], xDomain: [-0.6, 12.6], xTicks: [0, 2, 4, 6, 8, 10, 12], xFmt: f0,
    yDomain: [0.1, 19.9], yTicks: [2.5, 5, 7.5, 10, 12.5, 15, 17.5], yFmt: f1,
    lines: {
      RMax: pairs(eRMax), "PAC-RDP": spread(0, 12, ePAC), MA: pairs(eMA),
      MCTS: [...pairs([[0, 1.8]]), ...spread(0.1, 12, eMCTS)], MCSM: [...pairs([[0, 1.8]]), ...spread(0.1, 12, eMCSM)],
    },
    bands: { RMax: band(eRMaxBand), "PAC-RDP": band(ePACBand), MA: band(eMABand), MCTS: band(eMCTSBand), MCSM: band(eMCSMBand) },
    legend: [787, 588], ylab: 467, cap: [669, 757], letter: "(e) Rotating Maze", k: "3",
  },
  {
    box: [971, 404, 377, 281], xDomain: [-0.745, 15.645], xTicks: [0, 2, 4, 6, 8, 10, 12, 14], xFmt: f0,
    yDomain: [-1.6, 17.97], yTicks: [0, 2.5, 5, 7.5, 10, 12.5, 15, 17.5], yFmt: f1,
    lines: {
      RMax: pairs(fRMax), "PAC-RDP": pairs(fPAC), MA: pairs(fMA),
      MCTS: [...pairs([[0, 0.3], [0.2, 12.4], [0.35, 12.6]]), ...spread(0.5, 14.9, fMCTS)],
      MCSM: [...pairs([[0, 0.4], [0.15, 10.5], [0.3, 13.8]]), ...spread(0.45, 14.9, fMCSM)],
    },
    bands: { RMax: band(fRMaxBand), "PAC-RDP": band(fPACBand), MA: band(fMABand), MCTS: band(fMCTSBand), MCSM: band(fMCSMBand) },
    legend: [1239, 588], ylab: 921, cap: [1129, 757], letter: "(f) Flickering Grid", k: "8",
  },
];

const TICK = { fill: "#000", fontSize: 13.5, fontFamily: "DejaVu Sans" };
const SANS = "DejaVu Sans, sans-serif";
const YW = 60;
const TOP = 10;
const XH = 30;

function Panel({ p }: { p: any }) {
  const [bx, by, bw, bh] = p.box;
  const cx = bx + bw / 2;
  const cy = by + bh / 2;
  return (
    <>
      <div style={{ position: "absolute", left: bx - YW, top: by - TOP }}>
        <ComposedChart width={bw + YW + 2} height={bh + TOP + XH} margin={{ top: TOP, right: 2, bottom: 0, left: 0 }}>
          <CartesianGrid stroke="#b0b0b0" strokeWidth={0.8} />
          <XAxis
            type="number" dataKey="x" domain={p.xDomain} ticks={p.xTicks} allowDataOverflow interval={0}
            tickFormatter={p.xFmt} axisLine={false} tickLine={{ stroke: "#000" }} tickSize={4} tickMargin={3}
            tick={TICK} height={XH}
          />
          <YAxis
            type="number" domain={p.yDomain} ticks={p.yTicks} allowDataOverflow interval={0}
            tickFormatter={p.yFmt} axisLine={false} tickLine={{ stroke: "#000" }} tickSize={4} tickMargin={3}
            tick={TICK} width={YW}
          />
          {NAMES.filter((n) => p.bands[n]).map((n) => (
            <Area
              key={"b" + n} data={p.bands[n]} dataKey="r" type="linear" stroke="none"
              fill={COLORS[n]} fillOpacity={0.075} isAnimationActive={false} activeDot={false} dot={false}
            />
          ))}
          {NAMES.map((n) => (
            <Line
              key={n} data={p.lines[n]} dataKey="y" type="linear" stroke={COLORS[n]} strokeWidth={1.5}
              dot={false} activeDot={false} isAnimationActive={false}
            />
          ))}
        </ComposedChart>
      </div>
      {/* axes frame */}
      <div style={{ position: "absolute", left: bx, top: by, width: bw, height: bh, border: "1px solid #000", boxSizing: "border-box", pointerEvents: "none" }} />
      {/* legend */}
      <div
        style={{
          position: "absolute", left: p.legend[0], top: p.legend[1], width: 101, height: 92,
          background: "rgba(255,255,255,0.8)", border: "1px solid #cccccc", borderRadius: 3, boxSizing: "border-box",
        }}
      >
        {NAMES.map((n, i) => (
          <React.Fragment key={n}>
            <div style={{ position: "absolute", left: 3, top: 9 + i * 17.6 - 1, width: 27, height: 2, background: COLORS[n] }} />
            <div style={{ position: "absolute", left: 39, top: 9 + i * 17.6 - 9, lineHeight: "18px", fontSize: 13, fontFamily: SANS, whiteSpace: "nowrap" }}>
              {n}
            </div>
          </React.Fragment>
        ))}
      </div>
      {/* y label */}
      <div style={{ position: "absolute", left: p.ylab, top: cy, transform: "translate(-50%,-50%) rotate(-90deg)", fontSize: 13.5, fontFamily: SANS, whiteSpace: "nowrap" }}>
        Average Reward
      </div>
      {/* x label */}
      <div style={{ position: "absolute", left: cx, top: by + bh + 32, transform: "translate(-50%,-50%)", fontSize: 13.5, fontFamily: SANS, whiteSpace: "nowrap" }}>
        Episodes (unit=10<sup style={{ fontSize: 9.5 }}>5</sup>)
      </div>
      {/* caption */}
      <div style={{ position: "absolute", left: p.cap[0], top: p.cap[1], transform: "translate(-50%,-50%)", fontSize: 23.5, fontFamily: "Liberation Serif, serif", whiteSpace: "nowrap" }}>
        {p.letter} <i>k</i>
        <span style={{ padding: "0 0.3em" }}>=</span>
        {p.k}
      </div>
    </>
  );
}

export default function App() {
  return (
    <div style={{ position: "absolute", left: 0, top: 0, width: 1360, height: 773, background: "#fff", overflow: "hidden" }}>
      {PANELS.map((p, i) => (
        <Panel key={i} p={p} />
      ))}
    </div>
  );
}
